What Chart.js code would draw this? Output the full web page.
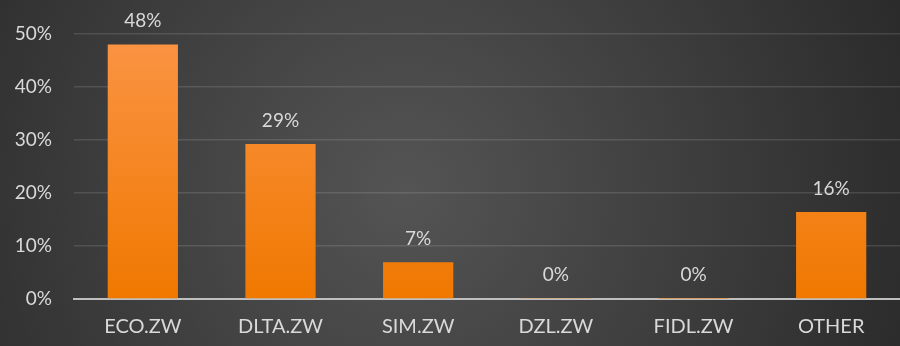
<!DOCTYPE html>
<html>
<head>
<meta charset="utf-8">
<script src="https://cdn.jsdelivr.net/npm/chart.js@4"></script>
<style>
  html, body { margin: 0; padding: 0; background: #333; }
  #wrap { width: 900px; height: 346px; }
</style>
</head>
<body>
<div id="wrap"><canvas id="myChart" width="900" height="346"></canvas></div>
<script>
const categories = ["ECO.ZW", "DLTA.ZW", "SIM.ZW", "DZL.ZW", "FIDL.ZW", "OTHER"];
const shares = [47.9, 29.2, 6.9, 0.2, 0.05, 16.4];
const yTicks = [0, 10, 20, 30, 40, 50];

// dark radial background like the slide
const background = {
  id: "background",
  beforeDraw(chart) {
    const { ctx, width, height } = chart;
    const g = ctx.createRadialGradient(width * 0.45, height * 0.55, 0, width * 0.45, height * 0.55, width * 0.6);
    g.addColorStop(0, "#545454");
    g.addColorStop(1, "#2a2a2a");
    ctx.save();
    ctx.fillStyle = g;
    ctx.fillRect(0, 0, width, height);
    ctx.restore();
  },
};

// value labels above each bar
const valueLabels = {
  id: "valueLabels",
  afterDatasetsDraw(chart) {
    const { ctx } = chart;
    const meta = chart.getDatasetMeta(0);
    ctx.save();
    ctx.font = "19px Lato, 'Open Sans', sans-serif";
    ctx.fillStyle = "#d9d9d9";
    ctx.textAlign = "center";
    ctx.textBaseline = "bottom";
    meta.data.forEach((bar, i) => {
      ctx.fillText(Math.round(shares[i]) + "%", bar.x, bar.y - 14);
    });
    ctx.restore();
  },
};

const ctx = document.getElementById("myChart").getContext("2d");
const myChart = new Chart(ctx, {
  type: "bar",
  data: {
    labels: categories,
    datasets: [
      {
        data: shares,
        backgroundColor(c) {
          const area = c.chart.chartArea;
          if (!area) return "#f58220";
          const g = c.chart.ctx.createLinearGradient(0, area.top, 0, area.bottom);
          g.addColorStop(0, "#fa9445");
          g.addColorStop(1, "#f07800");
          return g;
        },
        borderWidth: 0,
        barPercentage: 0.51,
        categoryPercentage: 1,
      },
    ],
  },
  options: {
    responsive: false,
    animation: false,
    layout: { padding: { top: 32, right: 0, left: 0, bottom: 9 } },
    plugins: {
      legend: { display: false },
      tooltip: { enabled: false },
    },
    scales: {
      x: {
        afterFit(scale) {
          scale.height = 38;
        },
        grid: { display: false, drawTicks: false },
        border: { color: "#bfbfbf", width: 2 },
        ticks: {
          color: "#d9d9d9",
          font: { family: "Lato, 'Open Sans', sans-serif", size: 20 },
          padding: 16,
        },
      },
      y: {
        min: 0,
        max: 50,
        afterBuildTicks(scale) {
          scale.ticks = yTicks.map((v) => ({ value: v }));
        },
        afterFit(scale) {
          scale.width = 74;
        },
        border: { display: false },
        grid: { color: "rgba(255,255,255,0.12)", lineWidth: 1.5, drawTicks: false },
        ticks: {
          color: "#d9d9d9",
          font: { family: "Lato, 'Open Sans', sans-serif", size: 19 },
          padding: 22,
          callback: (v) => v + "%",
        },
      },
    },
  },
  plugins: [background, valueLabels],
});
</script>
</body>
</html>
